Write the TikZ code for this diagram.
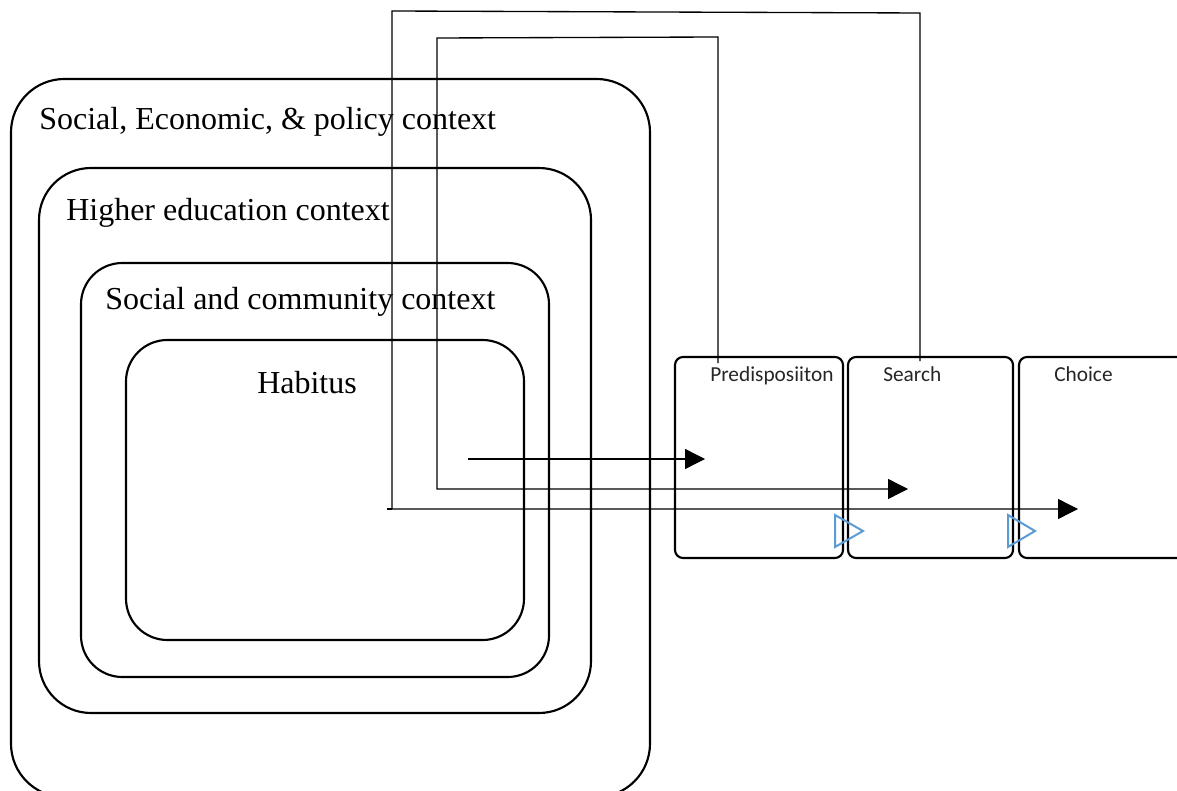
\documentclass[tikz,border=0pt]{standalone}
\usepackage{fontspec}
\setmainfont{Liberation Serif}
\newfontfamily\calib{Carlito}
\usetikzlibrary{arrows.meta}
\begin{document}
\begin{tikzpicture}[x=0.75pt,y=-0.75pt,
  ctxbox/.style={draw=black, line width=1.6pt},
  stagebox/.style={draw=black, line width=1.6pt, rounded corners=6pt},
  ctxlabel/.style={anchor=base west, inner sep=0pt, font=\fontsize{24}{28}\selectfont},
  stagelabel/.style={anchor=base west, inner sep=0pt, font=\calib\fontsize{16}{19}\selectfont, text=black!85},
  flow/.style={draw=black, line width=1pt, -{Triangle[length=15pt,width=15pt]}},
  opentri/.style={draw=blue!45!cyan!70!black, line width=1.5pt, line join=miter}
]
\useasboundingbox (0,0) rectangle (1177,791);
\fill[white] (0,0) rectangle (1177,791);

% nested context boxes
\draw[ctxbox, rounded corners=40pt] (11,79) rectangle (650,797);
\draw[ctxbox, rounded corners=39pt] (39,168) rectangle (591,713);
\draw[ctxbox, rounded corners=31pt] (81,263) rectangle (549,677);
\draw[ctxbox, rounded corners=31pt] (126,340) rectangle (524,640);

\node[ctxlabel] (l1) at (39,130) {Social, Economic, \& policy context};
\node[ctxlabel] (l2) at (66,221) {Higher education context};
\node[ctxlabel] (l3) at (105,310) {Social and community context};
\node[ctxlabel] (l4) at (257,393) {Habitus};

% stage boxes
\draw[stagebox] (675,357) rectangle (843,558);
\draw[stagebox] (848,357) rectangle (1013,558);
\draw[stagebox] (1019,357) rectangle (1195,558);

\node[stagelabel] (p) at (710,381) {Predisposiiton};
\node[stagelabel] (s) at (883,381) {Search};
\node[stagelabel] (c) at (1054,381) {Choice};

% open blue triangles
\draw[opentri, draw={rgb,255:red,91;green,155;blue,213}] (835,515) -- (863,531) -- (835,547) -- cycle;
\draw[opentri, draw={rgb,255:red,91;green,155;blue,213}] (1008,515) -- (1035,531) -- (1008,547) -- cycle;

% connectors
\coordinate (a1) at (468,459);
\coordinate (b1) at (705,459);
\draw[flow] (a1) -- (b1);

\coordinate (a2) at (718,363);
\coordinate (b2) at (908,489);
\draw[flow] (a2) -- (718,37) -- (437,38) -- (437,489) -- (b2);

\coordinate (a3) at (920,361);
\coordinate (b3) at (1078,509);
\draw[flow] (a3) -- (920,13) -- (392,11) -- (392,509) -- (b3);
\draw[draw=black, line width=1pt] (387,509) -- (392,509);
\end{tikzpicture}
\end{document}
